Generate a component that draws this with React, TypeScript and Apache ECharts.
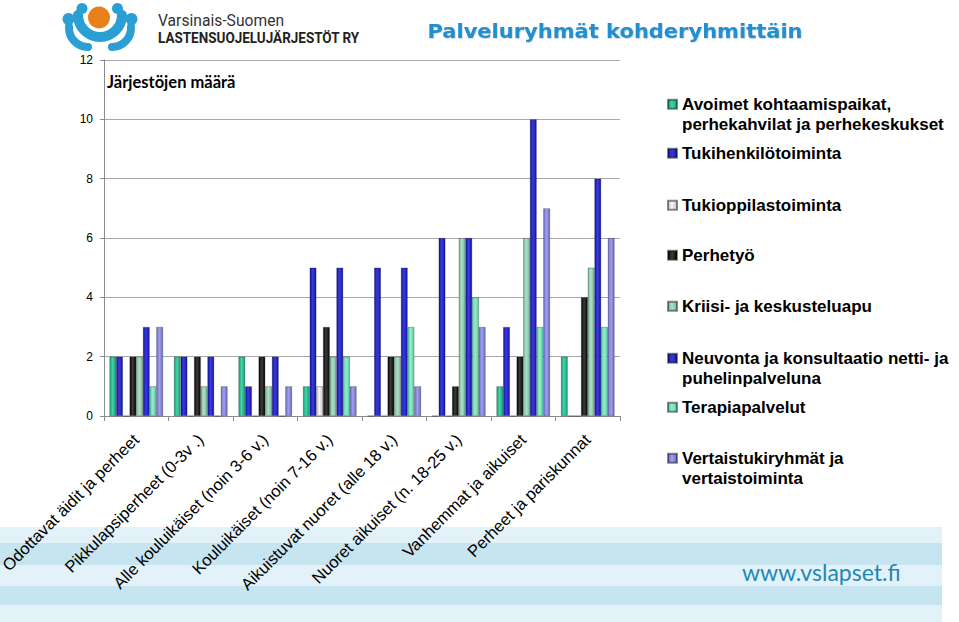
import React, { useEffect, useRef } from "react";
import * as echarts from "echarts";

const categories = [
  "Odottavat äidit ja perheet",
  "Pikkulapsiperheet (0-3v .)",
  "Alle kouluikäiset (noin 3-6 v.)",
  "Kouluikäiset (noin 7-16 v.)",
  "Aikuistuvat nuoret (alle 18 v.)",
  "Nuoret aikuiset (n. 18-25 v.)",
  "Vanhemmat ja aikuiset",
  "Perheet ja pariskunnat",
];

const seriesNames = [
  "Avoimet kohtaamispaikat, perhekahvilat ja perhekeskukset",
  "Tukihenkilötoiminta",
  "Tukioppilastoiminta",
  "Perhetyö",
  "Kriisi- ja keskusteluapu",
  "Neuvonta ja konsultaatio netti- ja puhelinpalveluna",
  "Terapiapalvelut",
  "Vertaistukiryhmät ja vertaistoiminta",
];

const legendLines = [
  ["Avoimet kohtaamispaikat,", "perhekahvilat ja perhekeskukset"],
  ["Tukihenkilötoiminta"],
  ["Tukioppilastoiminta"],
  ["Perhetyö"],
  ["Kriisi- ja keskusteluapu"],
  ["Neuvonta ja konsultaatio netti- ja", "puhelinpalveluna"],
  ["Terapiapalvelut"],
  ["Vertaistukiryhmät ja", "vertaistoiminta"],
];

const avoimet = [2, 2, 2, 1, 0, 0, 1, 2];
const tukihenkilo = [2, 2, 1, 5, 5, 6, 3, 0];
const tukioppilas = [0, 0, 0, 1, 0, 0, 0, 0];
const perhetyo = [2, 2, 2, 3, 2, 1, 2, 4];
const kriisi = [2, 1, 1, 2, 2, 6, 6, 5];
const neuvonta = [3, 2, 2, 5, 5, 6, 10, 8];
const terapia = [1, 0, 0, 2, 3, 4, 3, 3];
const vertais = [3, 1, 1, 1, 1, 3, 7, 6];

const seriesValues = [avoimet, tukihenkilo, tukioppilas, perhetyo, kriisi, neuvonta, terapia, vertais];

const yMin = 0;
const yMax = 12;
const yInterval = 2;

const barColors: [string, string][] = [
  ["#12a47a", "#45d2a8"],
  ["#1414a8", "#3a3ade"],
  ["#c4c4c4", "#f6f6f6"],
  ["#050505", "#3c3c3c"],
  ["#78b89a", "#aee0c8"],
  ["#1414a8", "#3a3ade"],
  ["#58d0a6", "#95eccb"],
  ["#6c6cca", "#a0a0ea"],
];

const legendCenters = [104, 153, 205, 255, 306, 358, 407, 458];

const BLUE_LOGO = "#2a9fd4";
const LINE_H = 20.5;

function buildOption() {
  const series = seriesNames.map((name, i) => ({
    name,
    type: "bar",
    data: seriesValues[i],
    barGap: "0%",
    barCategoryGap: "17%",
    itemStyle: {
      color: new echarts.graphic.LinearGradient(0, 0, 1, 0, [
        { offset: 0, color: barColors[i][0] },
        { offset: 0.45, color: barColors[i][1] },
        { offset: 1, color: barColors[i][0] },
      ]),
      borderColor: "rgba(0,0,0,0.45)",
      borderWidth: 0.6,
    },
    emphasis: { disabled: true },
  }));

  const legends = seriesNames.map((name, i) => {
    const lines = legendLines[i];
    const twoLine = lines.length > 1;
    // for two-line labels a leading blank line keeps the icon level with the first line
    const label = twoLine ? "\n" + lines.join("\n") : lines[0];
    return {
      data: [name],
      orient: "vertical",
      left: 667,
      top: legendCenters[i] - 10 - (twoLine ? LINE_H : 0),
      padding: 0,
      itemWidth: 9,
      itemHeight: 9,
      itemGap: 0,
      icon: "rect",
      selectedMode: false,
      formatter: () => label,
      textStyle: {
        fontSize: 17,
        fontWeight: "bold",
        fontFamily: "Liberation Sans, Arial, sans-serif",
        color: "#000",
        lineHeight: LINE_H,
      },
    };
  });

  const bandStripes = [
    { y: 527, h: 16, c: "#e3f2f9" },
    { y: 543, h: 22, c: "#c7e4f1" },
    { y: 565, h: 21, c: "#e3f2f9" },
    { y: 586, h: 19, c: "#c7e4f1" },
    { y: 605, h: 17, c: "#e3f2f9" },
  ];

  const graphic: any[] = [
    ...bandStripes.map((s) => ({
      type: "rect",
      z: -10,
      silent: true,
      shape: { x: 0, y: s.y, width: 942, height: s.h },
      style: { fill: s.c },
    })),
    // logo
    {
      type: "arc",
      silent: true,
      shape: { cx: 88, cy: 28, r: 19, startAngle: Math.PI / 2, endAngle: Math.PI * 1.02, clockwise: true },
      style: { stroke: BLUE_LOGO, lineWidth: 8, fill: "none", lineCap: "round" },
    },
    {
      type: "arc",
      silent: true,
      shape: { cx: 112, cy: 28, r: 19, startAngle: -Math.PI * 0.02, endAngle: Math.PI / 2, clockwise: true },
      style: { stroke: BLUE_LOGO, lineWidth: 8, fill: "none", lineCap: "round" },
    },
    {
      type: "arc",
      silent: true,
      shape: { cx: 100, cy: 15, r: 22, startAngle: 0, endAngle: Math.PI, clockwise: true },
      style: { stroke: BLUE_LOGO, lineWidth: 10, fill: "none", lineCap: "round" },
    },
    { type: "circle", silent: true, shape: { cx: 68.5, cy: 19, r: 6 }, style: { fill: BLUE_LOGO } },
    { type: "circle", silent: true, shape: { cx: 131.5, cy: 19, r: 6 }, style: { fill: BLUE_LOGO } },
    { type: "circle", silent: true, shape: { cx: 82, cy: 8.5, r: 5.5 }, style: { fill: BLUE_LOGO } },
    { type: "circle", silent: true, shape: { cx: 117.5, cy: 8.5, r: 5.5 }, style: { fill: BLUE_LOGO } },
    { type: "circle", silent: true, shape: { cx: 99, cy: 17.5, r: 11 }, style: { fill: "#e8801a" } },
    {
      type: "text",
      silent: true,
      x: 158,
      y: 20,
      scaleX: 0.92,
      style: {
        text: "Varsinais-Suomen",
        fill: "#333",
        fontSize: 17,
        fontFamily: "Roboto, sans-serif",
        align: "left",
        verticalAlign: "middle",
        textAlign: "left",
        textVerticalAlign: "middle",
      },
    },
    {
      type: "text",
      silent: true,
      x: 158,
      y: 38,
      scaleX: 0.87,
      style: {
        text: "LASTENSUOJELUJÄRJESTÖT RY",
        fill: "#222",
        fontSize: 15.5,
        fontWeight: "bold",
        fontFamily: "Roboto, sans-serif",
        align: "left",
        verticalAlign: "middle",
        textAlign: "left",
        textVerticalAlign: "middle",
      },
    },
    {
      type: "text",
      silent: true,
      x: 615,
      y: 31,
      scaleX: 1.05,
      style: {
        text: "Palveluryhmät kohderyhmittäin",
        fill: "#2390d0",
        fontSize: 20,
        fontWeight: "bold",
        fontFamily: "DejaVu Sans, sans-serif",
        align: "center",
        verticalAlign: "middle",
        textAlign: "center",
        textVerticalAlign: "middle",
        textShadowColor: "rgba(0,60,120,0.35)",
        textShadowBlur: 1,
        textShadowOffsetX: 0.5,
        textShadowOffsetY: 0.5,
      },
    },
    {
      type: "text",
      silent: true,
      x: 107,
      y: 82,
      style: {
        text: "Järjestöjen määrä",
        fill: "#000",
        fontSize: 16.5,
        fontWeight: "bold",
        fontFamily: "Lato, sans-serif",
        align: "left",
        verticalAlign: "middle",
        textAlign: "left",
        textVerticalAlign: "middle",
      },
    },
    {
      type: "text",
      silent: true,
      x: 742,
      y: 572,
      style: {
        text: "www.vslapset.fi",
        fill: "#1f88b4",
        fontSize: 23,
        fontFamily: "Lato, sans-serif",
        align: "left",
        verticalAlign: "middle",
        textAlign: "left",
        textVerticalAlign: "middle",
      },
    },
  ];

  return {
    animation: false,
    backgroundColor: "#ffffff",
    grid: {
      left: 104,
      top: 60,
      width: 516,
      height: 356,
      containLabel: false,
      outerBoundsMode: "none",
    },
    legend: legends,
    xAxis: {
      type: "category",
      data: categories,
      axisLine: { show: true, lineStyle: { color: "#8c8c8c", width: 1 } },
      axisTick: { show: true, length: 5, lineStyle: { color: "#8c8c8c" } },
      axisLabel: {
        interval: 0,
        rotate: 45,
        margin: 21,
        fontSize: 16.6,
        color: "#000",
        fontFamily: "Liberation Sans, Arial, sans-serif",
      },
      splitLine: { show: false },
    },
    yAxis: {
      type: "value",
      min: yMin,
      max: yMax,
      interval: yInterval,
      axisLine: { show: true, lineStyle: { color: "#8c8c8c", width: 1 } },
      axisTick: { show: true, length: 4, lineStyle: { color: "#8c8c8c" } },
      axisLabel: {
        fontSize: 12,
        color: "#000",
        margin: 11,
        fontFamily: "Liberation Sans, Arial, sans-serif",
      },
      splitLine: { show: true, lineStyle: { color: "#a8a8a8", width: 1 } },
    },
    graphic,
    series,
  };
}

export default function App() {
  const ref = useRef<HTMLDivElement>(null);
  useEffect(() => {
    if (!ref.current) return;
    const chart = echarts.init(ref.current, null, { renderer: "svg" });
    chart.setOption(buildOption() as any);
    return () => {
      chart.dispose();
    };
  }, []);
  return (
    <div
      ref={ref}
      style={{ position: "fixed", left: 0, top: 0, width: 959, height: 622, background: "#fff" }}
    />
  );
}
